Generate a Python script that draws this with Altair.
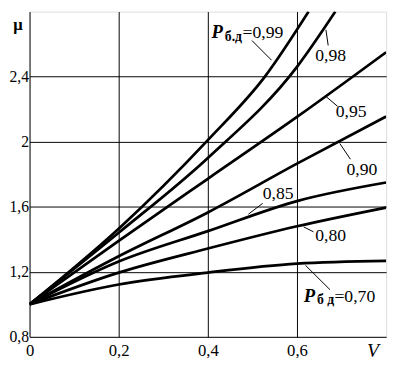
import altair as alt
import pandas as pd

# ---- curve data ----
V_STD = [0.0, 0.2, 0.4, 0.6, 0.8]
MU_070 = [1.0, 1.122, 1.195, 1.250, 1.267]
MU_080 = [1.0, 1.195, 1.343, 1.480, 1.595]
MU_085 = [1.0, 1.263, 1.450, 1.635, 1.749]
MU_090 = [1.0, 1.295, 1.565, 1.865, 2.155]
MU_095 = [1.0, 1.390, 1.772, 2.152, 2.550]
V_098 = [0.0, 0.2, 0.4, 0.6, 0.686]
MU_098 = [1.0, 1.440, 1.900, 2.460, 2.800]
V_099 = [0.0, 0.2, 0.4, 0.528, 0.626]
MU_099 = [1.0, 1.465, 2.010, 2.400, 2.800]

X_TICKS = [0, 0.2, 0.4, 0.6]
Y_TICKS = [0.8, 1.2, 1.6, 2.0, 2.4]

# curve labels
LBL_TEXT = ["0,98", "0,95", "0,90", "0,85", "0,80"]
LBL_V = [0.641, 0.687, 0.711, 0.523, 0.641]
LBL_MU = [2.495, 2.151, 1.795, 1.645, 1.391]

# labels with P symbol
P_V = [0.408, 0.615]
P_MU = [2.640, 1.017]
SUB_TEXT = ["б.д", "б д"]
SUB_V = [0.438, 0.645]
SUB_MU = [2.622, 0.999]
EQ_TEXT = ["=0,99", "=0,70"]
EQ_V = [0.478, 0.684]
EQ_MU = [2.640, 1.017]

# leader lines
LEAD_V1 = [0.499, 0.665, 0.665, 0.696, 0.491, 0.615, 0.619]
LEAD_MU1 = [2.622, 2.688, 2.278, 1.989, 1.554, 1.476, 1.240]
LEAD_V2 = [0.543, 0.670, 0.691, 0.720, 0.523, 0.637, 0.674]
LEAD_MU2 = [2.501, 2.592, 2.218, 1.892, 1.621, 1.446, 1.090]

rows = []
for name, xs_, ys_ in [
    ("0.70", V_STD, MU_070), ("0.80", V_STD, MU_080), ("0.85", V_STD, MU_085),
    ("0.90", V_STD, MU_090), ("0.95", V_STD, MU_095), ("0.98", V_098, MU_098),
    ("0.99", V_099, MU_099),
]:
    for x, y in zip(xs_, ys_):
        rows.append({"P": name, "V": x, "mu": y})
df = pd.DataFrame(rows)

FONT = "'Liberation Serif', 'Times New Roman', serif"
xs = alt.Scale(domain=[0, 0.8], nice=False, zero=False)
ys = alt.Scale(domain=[0.8, 2.8], nice=False, zero=False)
lab = "replace(toString(datum.value), '.', ',')"

xax = alt.Axis(values=X_TICKS, labelExpr=lab, grid=True, gridColor="black",
               gridOpacity=1, gridWidth=1, ticks=False, domain=False,
               labelFont=FONT, labelFontSize=17, labelColor="black",
               labelPadding=6, labelFlush=False, title=None)
yax = alt.Axis(values=Y_TICKS, labelExpr=lab, grid=True, gridColor="black",
               gridOpacity=1, gridWidth=1, ticks=False, domain=False,
               labelFont=FONT, labelFontSize=16, labelColor="black",
               labelPadding=1, labelFlush=False, title=None)

lines = alt.Chart(df).mark_line(interpolate="monotone", strokeWidth=2.8,
                                color="black", clip=True).encode(
    x=alt.X("V:Q", scale=xs, axis=xax),
    y=alt.Y("mu:Q", scale=ys, axis=yax),
    detail="P:N",
)

lbl_df = pd.DataFrame({"t": LBL_TEXT, "V": LBL_V, "mu": LBL_MU})
labels = alt.Chart(lbl_df).mark_text(align="left", baseline="alphabetic",
                                     font=FONT, fontSize=18, color="black").encode(
    x=alt.X("V:Q", scale=xs), y=alt.Y("mu:Q", scale=ys), text="t:N")

p_df = pd.DataFrame({"t": ["P", "P"], "V": P_V, "mu": P_MU})
p_marks = alt.Chart(p_df).mark_text(align="left", baseline="alphabetic",
                                    font=FONT, fontSize=19, fontStyle="italic",
                                    fontWeight="bold", color="black").encode(
    x=alt.X("V:Q", scale=xs), y=alt.Y("mu:Q", scale=ys), text="t:N")

sub_df = pd.DataFrame({"t": SUB_TEXT, "V": SUB_V, "mu": SUB_MU})
sub_marks = alt.Chart(sub_df).mark_text(align="left", baseline="alphabetic",
                                        font=FONT, fontSize=14, fontWeight="bold",
                                        color="black").encode(
    x=alt.X("V:Q", scale=xs), y=alt.Y("mu:Q", scale=ys), text="t:N")

eq_df = pd.DataFrame({"t": EQ_TEXT, "V": EQ_V, "mu": EQ_MU})
eq_marks = alt.Chart(eq_df).mark_text(align="left", baseline="alphabetic",
                                      font=FONT, fontSize=18, color="black").encode(
    x=alt.X("V:Q", scale=xs), y=alt.Y("mu:Q", scale=ys), text="t:N")

lead_df = pd.DataFrame({"V": LEAD_V1, "mu": LEAD_MU1, "V2": LEAD_V2, "mu2": LEAD_MU2})
leaders = alt.Chart(lead_df).mark_rule(color="black", strokeWidth=1).encode(
    x=alt.X("V:Q", scale=xs), y=alt.Y("mu:Q", scale=ys), x2="V2:Q", y2="mu2:Q")

mu_df = pd.DataFrame({"t": ["μ"], "V": [-0.026], "mu": [2.715]})
mu_mark = alt.Chart(mu_df).mark_text(align="center", baseline="middle",
                                     font=FONT, fontSize=17, fontWeight="bold",
                                     color="black", clip=False).encode(
    x=alt.X("V:Q", scale=xs), y=alt.Y("mu:Q", scale=ys), text="t:N")

v_df = pd.DataFrame({"t": ["V"], "V": [0.757], "mu": [0.673]})
v_mark = alt.Chart(v_df).mark_text(align="left", baseline="alphabetic",
                                   font=FONT, fontSize=20, fontStyle="italic",
                                   color="black", clip=False).encode(
    x=alt.X("V:Q", scale=xs), y=alt.Y("mu:Q", scale=ys), text="t:N")

chart = alt.layer(lines, leaders, labels, p_marks, sub_marks, eq_marks,
                  mu_mark, v_mark).properties(
    width=364, height=332,
    autosize=alt.AutoSizeParams(type="none"),
    padding={"left": 22, "top": 0, "right": 6, "bottom": 22},
).configure_view(stroke="black", strokeWidth=1.5).configure(background="white")

chart.save("out.html", embed_options={"renderer": "svg", "actions": False})
